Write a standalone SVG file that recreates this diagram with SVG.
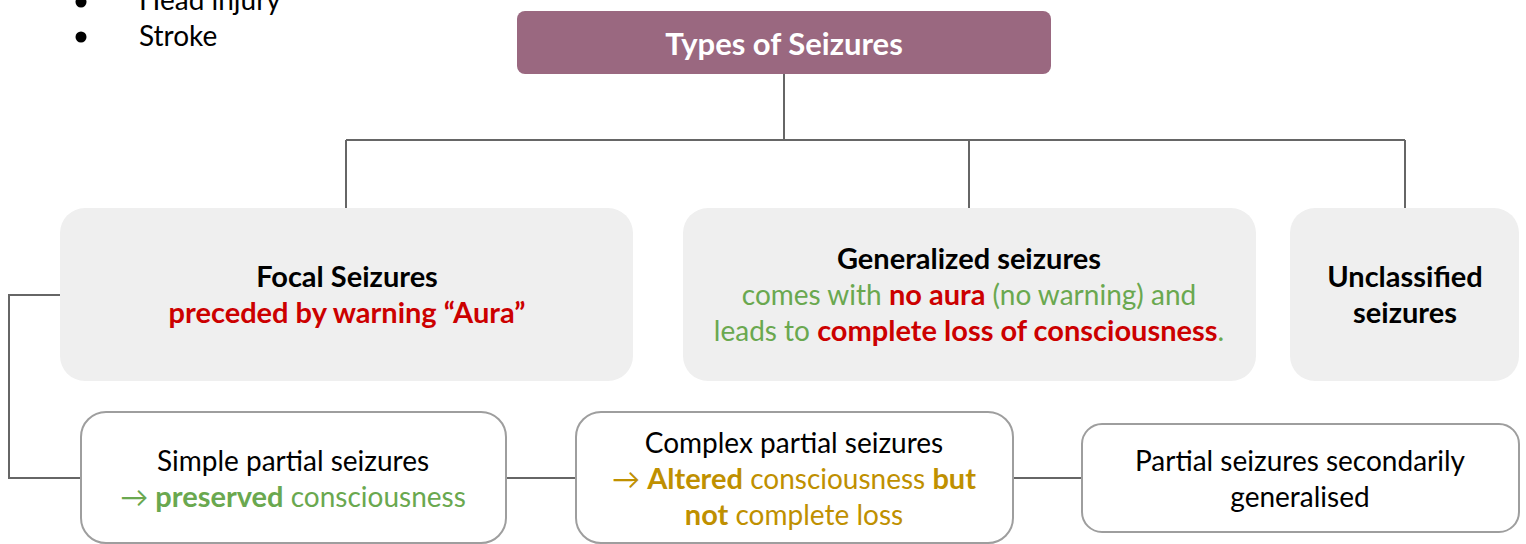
<svg xmlns="http://www.w3.org/2000/svg" width="1526" height="544" viewBox="0 0 1526 544">
<style>
text{font-family:Lato,"Open Sans","Liberation Sans",sans-serif;font-size:28px;text-anchor:middle;fill:#000}
.b{font-weight:bold;font-size:29px}
.red{fill:#cc0000;font-weight:bold;font-size:29px}
.grn{fill:#6aa84f}
.gold{fill:#bf9000}
.grey{fill:#efefef}
.out{fill:#fff;stroke:#9e9e9e;stroke-width:2}
.con{fill:none;stroke:#666;stroke-width:2}
</style>
<rect width="1526" height="544" fill="#fff"/>
<g id="bullets">
<circle cx="81" cy="2" r="5.5" fill="#000"/>
<text x="139" y="10" style="text-anchor:start">Head injury</text>
<circle cx="81" cy="37" r="5.5" fill="#000"/>
<text x="139" y="46" style="text-anchor:start">Stroke</text>
</g>
<g id="connectors">
<path class="con" d="M784 74V140M346 140H1405M346 140V208M969 140V208M1405 140V208"/>
<path class="con" d="M60 295H9V478H81"/>
<path class="con" d="M506 478H576M1013 478H1082"/>
</g>
<g id="title">
<rect x="517" y="11" width="534" height="63" rx="8" fill="#9a6880"/>
<text x="784" y="55" style="fill:#fff;font-size:31px;font-weight:bold">Types of Seizures</text>
</g>
<g id="focal">
<rect class="grey" x="60" y="208" width="573" height="173" rx="25"/>
<text x="347" y="287" class="b">Focal Seizures</text>
<text x="347" y="323" class="red">preceded by warning “Aura”</text>
</g>
<g id="generalized">
<rect class="grey" x="683" y="208" width="573" height="173" rx="25"/>
<text x="969" y="269" class="b">Generalized seizures</text>
<text x="969" y="305" class="grn">comes with <tspan class="red">no aura</tspan> (no warning) and</text>
<text x="969" y="341" class="grn">leads to <tspan class="red">complete loss of consciousness</tspan>.</text>
</g>
<g id="unclassified">
<rect class="grey" x="1290" y="208" width="229" height="173" rx="25"/>
<text x="1405" y="287" class="b">Unclassified</text>
<text x="1405" y="323" class="b">seizures</text>
</g>
<g id="simple">
<rect class="out" x="81" y="412" width="425" height="131" rx="25"/>
<text x="293" y="471">Simple partial seizures</text>
<text x="293" y="507" class="grn">→ <tspan class="b">preserved</tspan> consciousness</text>
</g>
<g id="complex">
<rect class="out" x="576" y="412" width="437" height="131" rx="25"/>
<text x="794" y="453">Complex partial seizures</text>
<text x="794" y="489" class="gold">→ <tspan class="b">Altered</tspan> consciousness <tspan class="b">but</tspan></text>
<text x="794" y="525" class="gold"><tspan class="b">not</tspan> complete loss</text>
</g>
<g id="partial">
<rect class="out" x="1082" y="424" width="437" height="108" rx="20"/>
<text x="1300" y="471">Partial seizures secondarily</text>
<text x="1300" y="507">generalised</text>
</g>
</svg>
